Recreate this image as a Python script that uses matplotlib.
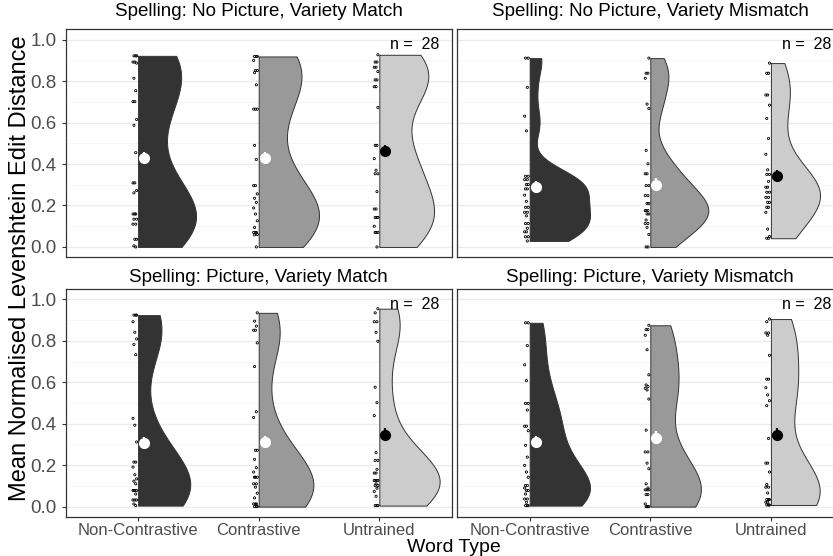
import numpy as np
import matplotlib
matplotlib.use("Agg")
import matplotlib.pyplot as plt
from matplotlib.ticker import MultipleLocator

plt.rcParams['font.family'] = ['Liberation Sans', 'DejaVu Sans']

categories = ["Non-Contrastive", "Contrastive", "Untrained"]
panel_titles = ["Spelling: No Picture, Variety Match",
                "Spelling: No Picture, Variety Mismatch",
                "Spelling: Picture, Variety Match",
                "Spelling: Picture, Variety Mismatch"]
n_label = "n =  28"
x_title = "Word Type"
y_title = "Mean Normalised Levenshtein Edit Distance"
y_ticks = [0.0, 0.2, 0.4, 0.6, 0.8, 1.0]
y_tick_labels = ["0.0", "0.2", "0.4", "0.6", "0.8", "1.0"]

# --- participant values ---
np_match_nc = [0.922, 0.922, 0.922, 0.892, 0.892, 0.887, 0.814, 0.754, 0.701, 0.701,
               0.615, 0.587, 0.455, 0.309, 0.309, 0.272, 0.261, 0.159, 0.159, 0.159,
               0.134, 0.134, 0.110, 0.110, 0.037, 0.037, 0.005, 0.0]
np_match_c = [0.919, 0.919, 0.919, 0.900, 0.851, 0.851, 0.841, 0.782, 0.665, 0.665,
              0.665, 0.490, 0.422, 0.296, 0.296, 0.256, 0.235, 0.215, 0.188, 0.159,
              0.126, 0.094, 0.070, 0.070, 0.070, 0.060, 0.058, 0.0]
np_match_u = [0.927, 0.892, 0.892, 0.867, 0.867, 0.846, 0.806, 0.806, 0.773, 0.773,
              0.673, 0.490, 0.490, 0.426, 0.370, 0.353, 0.353, 0.267, 0.183, 0.183,
              0.142, 0.142, 0.142, 0.100, 0.070, 0.070, 0.070, 0.0]

np_mismatch_nc = [0.911, 0.911, 0.770, 0.631, 0.560, 0.341, 0.341, 0.325, 0.325, 0.301,
                  0.301, 0.280, 0.280, 0.250, 0.220, 0.191, 0.191, 0.167, 0.167, 0.150,
                  0.113, 0.113, 0.090, 0.073, 0.073, 0.049, 0.049, 0.029]
np_mismatch_c = [0.911, 0.838, 0.838, 0.814, 0.689, 0.668, 0.466, 0.401, 0.353, 0.353,
                 0.296, 0.296, 0.248, 0.248, 0.210, 0.210, 0.175, 0.175, 0.175, 0.159,
                 0.159, 0.130, 0.113, 0.113, 0.094, 0.060, 0.0, 0.0]
np_mismatch_u = [0.887, 0.838, 0.838, 0.733, 0.733, 0.684, 0.620, 0.523, 0.447, 0.372,
                 0.350, 0.350, 0.316, 0.288, 0.288, 0.264, 0.264, 0.239, 0.239, 0.215,
                 0.215, 0.191, 0.191, 0.167, 0.086, 0.050, 0.042, 0.042]

p_match_nc = [0.924, 0.924, 0.924, 0.892, 0.841, 0.809, 0.782, 0.733, 0.426, 0.393,
              0.312, 0.215, 0.215, 0.191, 0.154, 0.134, 0.123, 0.110, 0.078, 0.078,
              0.078, 0.078, 0.061, 0.032, 0.032, 0.032, 0.013, 0.005]
p_match_c = [0.935, 0.895, 0.871, 0.851, 0.851, 0.790, 0.676, 0.458, 0.430, 0.272,
             0.272, 0.228, 0.188, 0.167, 0.142, 0.142, 0.142, 0.110, 0.110, 0.094,
             0.065, 0.042, 0.013, 0.013, 0.013, 0.0, 0.0, 0.0]
p_match_u = [0.955, 0.935, 0.892, 0.892, 0.841, 0.798, 0.576, 0.502, 0.439, 0.261,
             0.223, 0.223, 0.180, 0.162, 0.162, 0.126, 0.126, 0.126, 0.126, 0.110,
             0.102, 0.102, 0.089, 0.073, 0.050, 0.005, 0.005, 0.005]

p_mismatch_nc = [0.887, 0.887, 0.777, 0.684, 0.608, 0.498, 0.498, 0.466, 0.388, 0.388,
                 0.366, 0.296, 0.239, 0.199, 0.167, 0.142, 0.102, 0.102, 0.090, 0.078,
                 0.078, 0.061, 0.037, 0.037, 0.021, 0.005, 0.005, 0.005]
p_mismatch_c = [0.875, 0.854, 0.854, 0.827, 0.757, 0.636, 0.587, 0.579, 0.571, 0.563,
                0.519, 0.369, 0.264, 0.264, 0.210, 0.183, 0.110, 0.090, 0.081, 0.081,
                0.081, 0.058, 0.058, 0.013, 0.0, 0.0, 0.0, 0.0]
p_mismatch_u = [0.905, 0.892, 0.838, 0.838, 0.827, 0.730, 0.615, 0.615, 0.574, 0.539,
                0.511, 0.487, 0.329, 0.210, 0.210, 0.167, 0.107, 0.094, 0.094, 0.066,
                0.034, 0.034, 0.034, 0.021, 0.021, 0.008, 0.008, 0.008]

# --- group means and error bars (read from the summary points) ---
means_np_match = [0.430, 0.430, 0.463]
means_np_mismatch = [0.288, 0.301, 0.341]
means_p_match = [0.306, 0.312, 0.347]
means_p_mismatch = [0.311, 0.333, 0.347]
err_np_match = [0.030, 0.030, 0.030]
err_np_mismatch = [0.030, 0.030, 0.030]
err_p_match = [0.030, 0.030, 0.030]
err_p_mismatch = [0.030, 0.030, 0.030]

panels = [
    ([np_match_nc, np_match_c, np_match_u], means_np_match, err_np_match),
    ([np_mismatch_nc, np_mismatch_c, np_mismatch_u], means_np_mismatch, err_np_mismatch),
    ([p_match_nc, p_match_c, p_match_u], means_p_match, err_p_match),
    ([p_mismatch_nc, p_mismatch_c, p_mismatch_u], means_p_mismatch, err_p_mismatch),
]

fill_colors = ["#333333", "#999999", "#CCCCCC"]
mean_colors = ["white", "white", "black"]


def bw_nrd0(x):
    x = np.asarray(x, float)
    sd = np.std(x, ddof=1)
    q75, q25 = np.percentile(x, [75, 25])
    lo = min(sd, (q75 - q25) / 1.34)
    if lo <= 0:
        lo = sd
    return 0.9 * lo * len(x) ** (-0.2)


def kde(x, grid):
    x = np.asarray(x, float)
    bw = bw_nrd0(x)
    z = (grid[:, None] - x[None, :]) / bw
    return np.exp(-0.5 * z ** 2).sum(axis=1) / (len(x) * bw * np.sqrt(2 * np.pi))


W, H = 833, 556
fig = plt.figure(figsize=(W / 100, H / 100), dpi=100)

ax_w = 386 / W
ax_h = 228 / H
lefts = [65.7 / W, 457.3 / W]
bottoms = [1 - 257.3 / H, 1 - 517.0 / H]
title_y = [1 - 12 / H, 1 - 277 / H]

positions = np.arange(1, len(categories) + 1)

for k, (groups, means, errs) in enumerate(panels):
    r, c = divmod(k, 2)
    ax = fig.add_axes([lefts[c], bottoms[r], ax_w, ax_h])
    ax.set_xlim(0.4, 3.6)
    ax.set_ylim(-0.05, 1.05)
    ax.set_facecolor("white")
    ax.yaxis.set_major_locator(MultipleLocator(0.2))
    ax.yaxis.set_minor_locator(MultipleLocator(0.1))
    ax.grid(axis="y", which="major", color="#EBEBEB", lw=1.0, zorder=0)
    ax.grid(axis="y", which="minor", color="#F4F4F4", lw=0.6, zorder=0)
    ax.set_axisbelow(True)
    for s in ax.spines.values():
        s.set_color("#333333")
        s.set_linewidth(0.9)

    # densities
    dens = []
    grids = []
    for vals in groups:
        g = np.linspace(min(vals), max(vals), 512)
        grids.append(g)
        dens.append(kde(vals, g))
    dmax = max(d.max() for d in dens)

    for i, (vals, g, d) in enumerate(zip(groups, grids, dens)):
        xpos = positions[i]
        ax.fill_betweenx(g, xpos, xpos + 0.5 * d / dmax, facecolor=fill_colors[i],
                         edgecolor="#333333", linewidth=0.7, zorder=2)
        n = len(vals)
        offs = np.array([-0.012 - 0.030 * (((j * 3) % 5) / 4.0) for j in range(n)])
        ax.scatter(xpos + offs, vals, s=2.5, facecolors="none", edgecolors="black",
                   linewidths=0.6, zorder=3)
        ax.errorbar(xpos + 0.05, means[i], yerr=errs[i], fmt="o", color=mean_colors[i],
                    markersize=7, elinewidth=1.6, capsize=0, zorder=4)

    ax.text(3.09, 0.977, n_label, ha="left", va="center", fontsize=11.5, color="black", zorder=6)
    fig.text(lefts[c] + ax_w / 2, title_y[r], panel_titles[k], ha="center", va="center",
             fontsize=13.5, color="black")

    ax.set_xticks(positions)
    ax.set_yticks(y_ticks)
    ax.tick_params(axis="both", which="minor", length=0)
    ax.tick_params(axis="both", which="major", color="#333333", length=3, width=0.8)
    if r == 1:
        ax.set_xticklabels(categories, fontsize=12, color="#4D4D4D")
        ax.tick_params(axis="x", pad=1)
    else:
        ax.tick_params(axis="x", length=0, labelbottom=False)
    if c == 0:
        ax.set_yticklabels(y_tick_labels, fontsize=13.5, color="#4D4D4D")
    else:
        ax.tick_params(axis="y", length=0, labelleft=False)

fig.text(454 / W, 1 - 548 / H, x_title, ha="center", va="center", fontsize=14, color="black")
fig.text(20 / W, 1 - 268 / H, y_title, ha="center", va="center", rotation=90,
         fontsize=17, color="black")

fig.savefig("out.png", dpi=100)
